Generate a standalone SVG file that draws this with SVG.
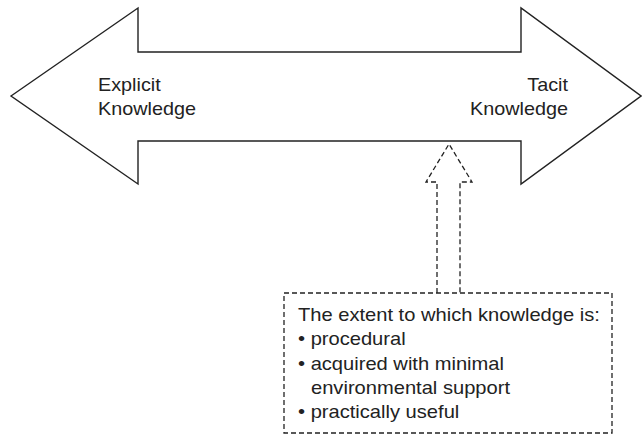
<svg xmlns="http://www.w3.org/2000/svg" width="642" height="435" viewBox="0 0 642 435">
<style>
.lbl{font-family:"Liberation Sans",Arial,sans-serif;font-size:18px;fill:#222}
.box{font-family:"Liberation Sans",Arial,sans-serif;font-size:17.5px;fill:#222}
.solid{fill:#fff;stroke:#222;stroke-width:1.4;stroke-linejoin:miter}
.dash{fill:none;stroke:#222;stroke-width:1.3;stroke-dasharray:5,3}
</style>
<rect width="642" height="435" fill="#fff"/>
<g id="double-arrow">
<path class="solid" d="M11,96 L138,8 L138,52 L521,52 L521,8 L641,96 L521,184 L521,141 L138,141 L138,184 Z"/>
</g>
<g id="explicit">
<text class="lbl" transform="translate(98 91) scale(1.1 1)">Explicit</text>
<text class="lbl" transform="translate(98 115) scale(1.1 1)">Knowledge</text>
</g>
<g id="tacit">
<text class="lbl" text-anchor="end" transform="translate(568 91) scale(1.1 1)">Tacit</text>
<text class="lbl" text-anchor="end" transform="translate(568 115) scale(1.1 1)">Knowledge</text>
</g>
<g id="connectors">
<path class="dash" d="M437,293 L437,182 L426,182 L449,144 L472,182 L460,182 L460,293"/>
</g>
<g id="criteria">
<rect class="dash" x="284" y="293" width="328" height="140"/>
<text class="box" transform="translate(298 321) scale(1.15 1)">The extent to which knowledge is:</text>
<text class="box" transform="translate(298 345) scale(1.15 1)">• procedural</text>
<text class="box" transform="translate(298 370) scale(1.15 1)">• acquired with minimal</text>
<text class="box" transform="translate(311 394) scale(1.15 1)">environmental support</text>
<text class="box" transform="translate(298 418) scale(1.15 1)">• practically useful</text>
</g>
</svg>
